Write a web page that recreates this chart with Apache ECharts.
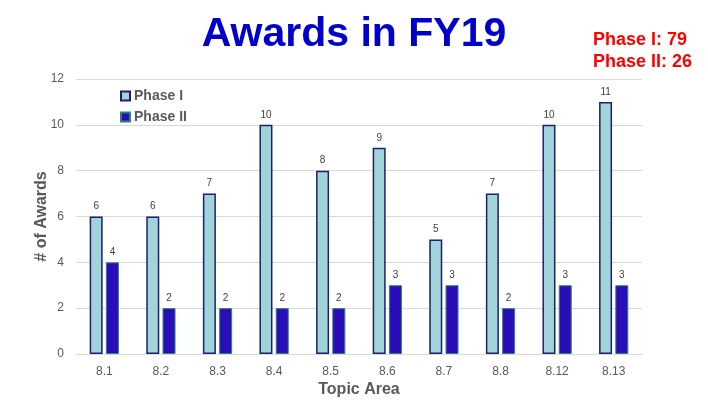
<!DOCTYPE html>
<html>
<head>
    <meta charset="utf-8">
    <title>Awards in FY19</title>
    <script src="https://cdn.jsdelivr.net/npm/echarts@6/dist/echarts.min.js"></script>
    <style type="text/css">
        html, body {
            margin: 0;
            padding: 0;
            background: #fff;
        }

        #main {
            width: 708px;
            height: 403px;
        }
    </style>
</head>
<body>
<div id="main"></div>
<script>
    var categories = ['8.1', '8.2', '8.3', '8.4', '8.5', '8.6', '8.7', '8.8', '8.12', '8.13'];
    var phase1 = [6, 6, 7, 10, 8, 9, 5, 7, 10, 11];
    var phase2 = [4, 2, 2, 2, 2, 3, 3, 2, 3, 3];
    var totals = ['Phase I: 79', 'Phase II: 26'];

    var font = 'Liberation Sans, Arial, sans-serif';
    var myChart = echarts.init(document.getElementById('main'));

    var labelStyle = {
        show: true,
        position: 'top',
        distance: 5,
        fontSize: 10,
        color: '#404040',
        fontFamily: font
    };

    var option = {
        animation: false,
        backgroundColor: '#fff',
        title: [{
            text: 'Awards in FY19',
            left: 'center',
            top: 9,
            textStyle: {
                fontFamily: font,
                fontSize: 41,
                fontWeight: 'bold',
                color: '#0000CC'
            }
        }, {
            text: totals.join('\n'),
            right: 11,
            top: 24,
            textStyle: {
                fontFamily: font,
                fontSize: 18,
                fontWeight: 'bold',
                color: '#FF0000',
                lineHeight: 22
            }
        }],
        legend: {
            orient: 'vertical',
            left: 120,
            top: 89,
            padding: 0,
            icon: 'rect',
            itemWidth: 9,
            itemHeight: 9,
            itemGap: 7,
            textStyle: {
                fontFamily: font,
                fontSize: 14,
                fontWeight: 'bold',
                color: '#595959',
                padding: [0, 0, 0, -1]
            },
            data: ['Phase I', 'Phase II']
        },
        grid: {
            left: 76,
            right: 66,
            top: 79,
            bottom: 48
        },
        xAxis: {
            type: 'category',
            data: categories,
            name: 'Topic Area',
            nameLocation: 'middle',
            nameGap: 28,
            nameMoveOverlap: false,
            nameTextStyle: {
                fontFamily: font,
                fontSize: 16,
                fontWeight: 'bold',
                color: '#595959'
            },
            axisLine: {lineStyle: {color: '#D9D9D9'}},
            axisTick: {show: false},
            axisLabel: {
                fontFamily: font,
                fontSize: 12,
                color: '#595959',
                margin: 12
            }
        },
        yAxis: {
            type: 'value',
            min: 0,
            max: 12,
            interval: 2,
            name: '# of Awards',
            nameLocation: 'middle',
            nameGap: 26,
            nameMoveOverlap: false,
            nameTextStyle: {
                fontFamily: font,
                fontSize: 16,
                fontWeight: 'bold',
                color: '#595959'
            },
            splitLine: {lineStyle: {color: '#D9D9D9'}},
            axisLabel: {
                fontFamily: font,
                fontSize: 12,
                color: '#595959',
                margin: 12
            }
        },
        series: [{
            name: 'Phase I',
            type: 'bar',
            data: phase1,
            barWidth: 13,
            barGap: '25%',
            itemStyle: {
                color: '#A1D4D8',
                borderColor: '#1F1F6B',
                borderWidth: 1.5
            },
            label: labelStyle
        }, {
            name: 'Phase II',
            type: 'bar',
            data: phase2,
            barWidth: 13,
            itemStyle: {
                color: '#2A0DB8',
                borderColor: '#2E8080',
                borderWidth: 1
            },
            label: labelStyle
        }]
    };
    myChart.setOption(option);
</script>
</body>
</html>
